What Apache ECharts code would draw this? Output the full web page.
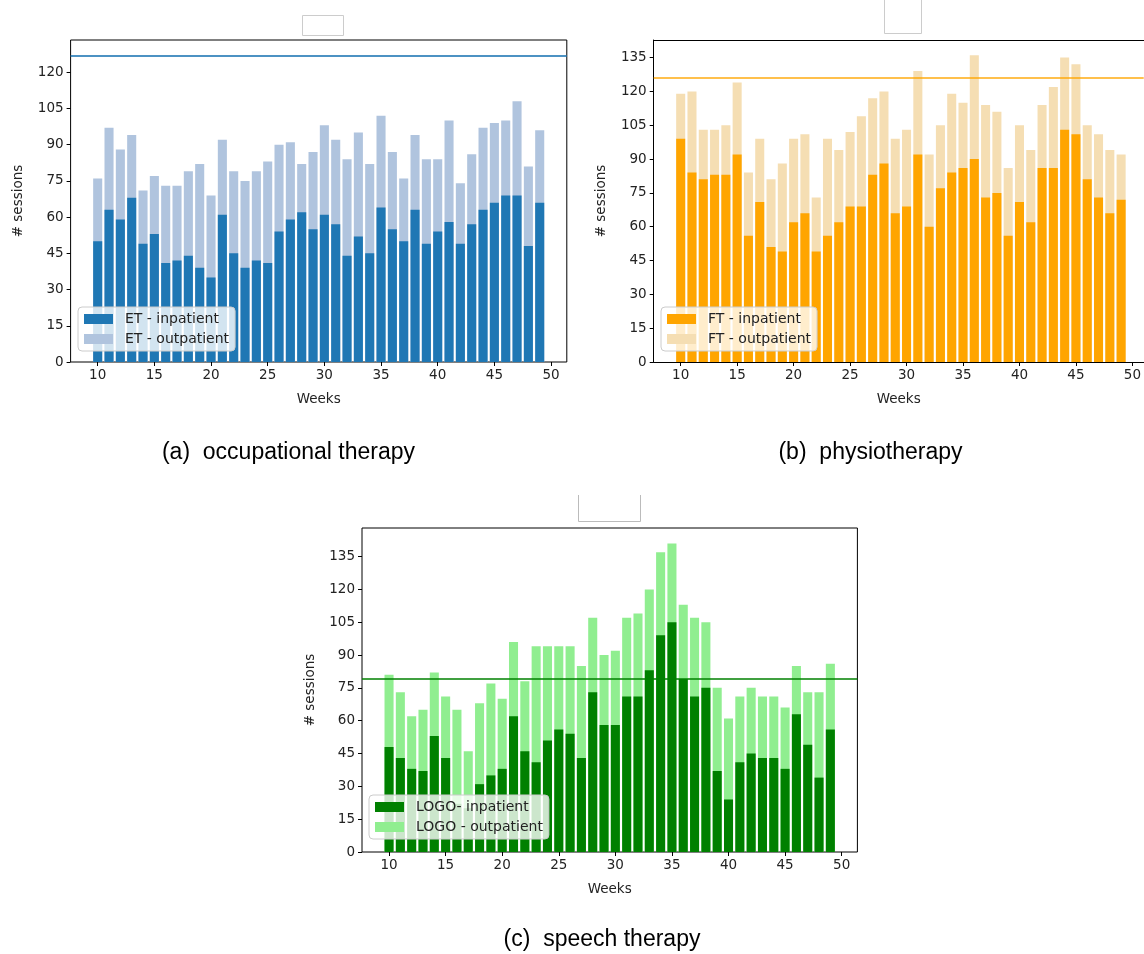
<!DOCTYPE html>
<html>
<head>
<meta charset="utf-8">
<script src="https://cdn.jsdelivr.net/npm/echarts@6/dist/echarts.min.js"></script>
<style>
  html, body { margin: 0; padding: 0; background: #fff; }
  #main { width: 1144px; height: 954px; }
</style>
</head>
<body>
<div id="main"></div>
<script>
  // weeks on the x axis
  var weeks = [10, 11, 12, 13, 14, 15, 16, 17, 18, 19, 20, 21, 22, 23, 24, 25, 26, 27, 28, 29,
               30, 31, 32, 33, 34, 35, 36, 37, 38, 39, 40, 41, 42, 43, 44, 45, 46, 47, 48, 49];
  var weekTicks = [10, 15, 20, 25, 30, 35, 40, 45, 50];
  var sessionTicks = [0, 15, 30, 45, 60, 75, 90, 105, 120, 135];

  // (a) occupational therapy
  var etIn  = [50, 63, 59, 68, 49, 53, 41, 42, 44, 39, 35, 61, 45, 39, 42, 41, 54, 59, 62, 55,
               61, 57, 44, 52, 45, 64, 55, 50, 63, 49, 54, 58, 49, 57, 63, 66, 69, 69, 48, 66];
  var etOut = [26, 34, 29, 26, 22, 24, 32, 31, 35, 43, 34, 31, 34, 36, 37, 42, 36, 32, 20, 32,
               37, 35, 40, 43, 37, 38, 32, 26, 31, 35, 30, 42, 25, 29, 34, 33, 31, 39, 33, 30];
  var etLine = 127;

  // (b) physiotherapy
  var ftIn  = [99, 84, 81, 83, 83, 92, 56, 71, 51, 49, 62, 66, 49, 56, 62, 69, 69, 83, 88, 66,
               69, 92, 60, 77, 84, 86, 90, 73, 75, 56, 71, 62, 86, 86, 103, 101, 81, 73, 66, 72];
  var ftOut = [20, 36, 22, 20, 22, 32, 28, 28, 30, 39, 37, 35, 24, 43, 32, 33, 40, 34, 32, 33,
               34, 37, 32, 28, 35, 29, 46, 41, 36, 30, 34, 32, 28, 36, 32, 31, 24, 28, 28, 20];
  var ftLine = 126;

  // (c) speech therapy
  var logoIn  = [48, 43, 38, 37, 53, 43, 22, 20, 31, 35, 38, 62, 46, 41, 51, 56, 54, 43, 73, 58,
                 58, 71, 71, 83, 99, 105, 79, 71, 75, 37, 24, 41, 45, 43, 43, 38, 63, 49, 34, 56];
  var logoOut = [33, 30, 24, 28, 29, 28, 43, 26, 37, 42, 32, 34, 32, 53, 43, 38, 40, 42, 34, 32,
                 34, 36, 38, 37, 38, 36, 34, 36, 30, 38, 37, 30, 30, 28, 28, 28, 22, 24, 39, 30];
  var logoLine = 79;

  var font = 'DejaVu Sans';
  var xMin = 7.61;

  // panel (b) runs off the right edge of the figure, so its visible x range stops at ~51
  var panels = [
    { box: [70.6, 40, 496.2, 322], xMax: 51.39, border: true,
      inName: 'ET - inpatient', outName: 'ET - outpatient',
      inData: etIn, outData: etOut, line: etLine,
      inColor: '#1f77b4', outColor: '#b0c4de', lineColor: 'rgba(31,119,180,0.8)',
      legend: [78, 307, 164] },
    { box: [653.7, 40, 490.3, 322], xMax: 51.0, border: false,
      inName: 'FT - inpatient', outName: 'FT - outpatient',
      inData: ftIn, outData: ftOut, line: ftLine,
      inColor: '#ffa500', outColor: '#f5deb3', lineColor: 'rgba(255,165,0,0.7)',
      legend: [661, 307, 162] },
    { box: [362, 528, 495.4, 324], xMax: 51.39, border: true,
      inName: 'LOGO- inpatient', outName: 'LOGO - outpatient',
      inData: logoIn, outData: logoOut, line: logoLine,
      inColor: '#008000', outColor: '#90ee90', lineColor: 'rgba(0,128,0,0.75)',
      legend: [369, 795, 188] }
  ];

  var grid = [], xAxis = [], yAxis = [], series = [], legend = [];

  panels.forEach(function (p, k) {
    var totals = p.inData.map(function (v, i) { return v + p.outData[i]; });
    var yMax = Math.max(Math.max.apply(null, totals), p.line) * 1.05;
    var barW = 0.8 * p.box[2] / (p.xMax - xMin);
    var yTicks = sessionTicks.filter(function (t) { return t <= yMax; });

    grid.push({
      left: p.box[0], top: p.box[1], width: p.box[2], height: p.box[3],
      show: p.border, borderColor: '#000', borderWidth: 1
    });
    xAxis.push({
      type: 'value', gridIndex: k, min: xMin, max: p.xMax,
      name: 'Weeks', nameLocation: 'middle', nameGap: 30,
      nameTextStyle: { fontFamily: font, fontSize: 13.5, color: '#222' },
      axisLine: { show: !p.border, onZero: false, lineStyle: { color: '#000', width: 1 } },
      splitLine: { show: false },
      axisTick: { show: true, length: 4, lineStyle: { color: '#000' }, customValues: weekTicks },
      axisLabel: { fontFamily: font, fontSize: 13.5, color: '#222', margin: 6, customValues: weekTicks }
    });
    yAxis.push({
      type: 'value', gridIndex: k, min: 0, max: yMax,
      name: '# sessions', nameLocation: 'middle', nameGap: 45,
      nameTextStyle: { fontFamily: font, fontSize: 13.5, color: '#222' },
      axisLine: { show: !p.border, onZero: false, lineStyle: { color: '#000', width: 1 } },
      splitLine: { show: false },
      axisTick: { show: true, length: 4, lineStyle: { color: '#000' }, customValues: yTicks },
      axisLabel: { fontFamily: font, fontSize: 13.5, color: '#222', margin: 7, customValues: yTicks }
    });

    // outpatient bar sits on top of the inpatient bar: draw the full height behind
    series.push({
      name: p.outName, type: 'bar', z: 2,
      xAxisIndex: k, yAxisIndex: k, barWidth: barW, barGap: '-100%',
      itemStyle: { color: p.outColor },
      data: weeks.map(function (w, i) { return [w, p.inData[i] + p.outData[i]]; })
    });
    series.push({
      name: p.inName, type: 'bar', z: 3,
      xAxisIndex: k, yAxisIndex: k, barWidth: barW, barGap: '-100%',
      itemStyle: { color: p.inColor },
      data: weeks.map(function (w, i) { return [w, p.inData[i]]; }),
      markLine: {
        silent: true, symbol: 'none', animation: false, z: 5,
        label: { show: false },
        lineStyle: { color: p.lineColor, width: 2, type: 'solid' },
        data: [{ yAxis: p.line }]
      }
    });

    legend.push({
      data: [p.inName, p.outName], orient: 'vertical',
      left: p.legend[0], top: p.legend[1], width: p.legend[2],
      icon: 'rect', itemWidth: 29, itemHeight: 10, itemGap: 6,
      padding: [5, 6, 5, 6],
      backgroundColor: 'rgba(255,255,255,0.8)',
      borderColor: '#ccc', borderWidth: 1, borderRadius: 4,
      selectedMode: false, z: 10,
      textStyle: { fontFamily: font, fontSize: 14, color: '#222', padding: [0, 0, 0, 7] }
    });
  });

  var chart = echarts.init(document.getElementById('main'));
  chart.setOption({
    animation: false,
    backgroundColor: '#fff',
    grid: grid,
    xAxis: xAxis,
    yAxis: yAxis,
    legend: legend,
    series: series,
    graphic: [
      // top spine of panel (b)
      { type: 'line', shape: { x1: 653.7, y1: 40.5, x2: 1144, y2: 40.5 },
        style: { stroke: '#000', lineWidth: 1 } },
      { type: 'rect', shape: { x: 302.5, y: 15.5, width: 41, height: 20 },
        style: { fill: 'none', stroke: '#ccc', lineWidth: 1 } },
      { type: 'polyline', shape: { points: [[884.5, 0], [884.5, 33.5], [921.5, 33.5], [921.5, 0]] },
        style: { fill: 'none', stroke: '#ccc', lineWidth: 1 } },
      { type: 'polyline', shape: { points: [[578.5, 495], [578.5, 521.5], [640.5, 521.5], [640.5, 495]] },
        style: { fill: 'none', stroke: '#bbb', lineWidth: 1 } },
      { type: 'text', x: 288.5, y: 453,
        style: { text: '(a)  occupational therapy', fontFamily: 'Liberation Sans', fontSize: 23,
                 fill: '#000', align: 'center', verticalAlign: 'middle' } },
      { type: 'text', x: 870.5, y: 453,
        style: { text: '(b)  physiotherapy', fontFamily: 'Liberation Sans', fontSize: 23,
                 fill: '#000', align: 'center', verticalAlign: 'middle' } },
      { type: 'text', x: 602, y: 940,
        style: { text: '(c)  speech therapy', fontFamily: 'Liberation Sans', fontSize: 23,
                 fill: '#000', align: 'center', verticalAlign: 'middle' } }
    ]
  });
</script>
</body>
</html>
